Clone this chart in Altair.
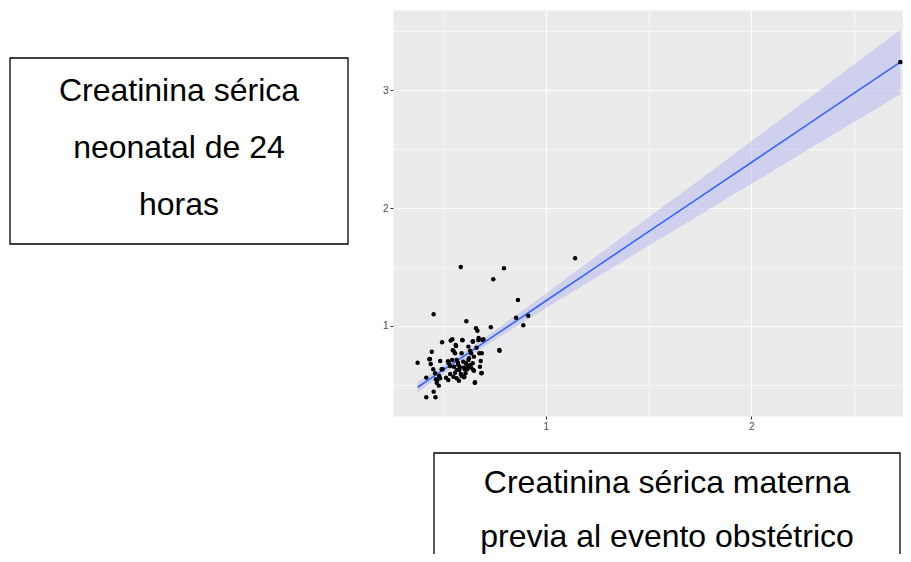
import altair as alt
import pandas as pd

# Scatter data (maternal vs neonatal serum creatinine)
x_materna = [0.377, 0.419, 0.464, 0.455, 0.419, 0.437, 0.446, 0.441, 0.487, 0.455,
             0.496, 0.453, 0.462, 0.473, 0.480, 0.486, 0.499, 0.528, 0.526, 0.538,
             0.546, 0.551, 0.545, 0.535, 0.562, 0.559, 0.567, 0.554, 0.559, 0.567,
             0.575, 0.580, 0.587, 0.591, 0.587, 0.596, 0.603, 0.604, 0.612, 0.614,
             0.619, 0.624, 0.627, 0.632, 0.637, 0.645, 0.645, 0.648, 0.656, 0.661,
             0.668, 0.651, 0.664, 0.672, 0.677, 0.684, 0.689, 0.697, 0.680, 0.733,
             0.745, 0.774, 0.797, 0.856, 0.865, 0.891, 0.915, 1.143, 2.725,
             0.564, 0.548, 0.632, 0.689, 0.434, 0.573, 0.599, 0.624, 0.494, 0.583,
             0.607, 0.637, 0.651, 0.482, 0.466, 0.535, 0.551, 0.591, 0.603, 0.687,
             0.470, 0.655, 0.776, 0.594, 0.674, 0.692, 0.646, 0.568, 0.610, 0.620,
             0.525, 0.515, 0.578]
y_neonatal = [0.689, 0.396, 0.396, 0.443, 0.562, 0.720, 0.782, 0.678, 0.703, 1.100,
              0.862, 0.633, 0.599, 0.542, 0.494, 0.557, 0.633, 0.684, 0.542, 0.876,
              0.887, 0.791, 0.712, 0.661, 0.839, 0.769, 0.712, 0.655, 0.604, 0.557,
              0.669, 0.627, 0.593, 0.769, 1.500, 0.879, 0.647, 0.570, 0.684, 1.040,
              0.633, 0.825, 0.726, 0.669, 0.769, 0.867, 0.684, 0.627, 0.523, 0.980,
              0.960, 0.740, 0.816, 0.881, 0.769, 0.703, 0.602, 0.887, 0.655, 0.989,
              1.396, 0.797, 1.490, 1.070, 1.220, 1.006, 1.087, 1.574, 3.240,
              0.830, 0.794, 0.791, 0.769, 0.718, 0.689, 0.697, 0.712, 0.633, 0.650,
              0.633, 0.647, 0.621, 0.576, 0.548, 0.593, 0.570, 0.576, 0.565, 0.599,
              0.519, 0.519, 0.790, 0.881, 0.898, 0.881, 0.870, 0.627, 0.600, 0.660,
              0.700, 0.560, 0.535]

# Fitted line and confidence band
fit_x = [0.377, 0.5, 0.6, 0.75, 1.0, 1.25, 1.5, 1.75, 2.0, 2.25, 2.5, 2.725]
fit_y = [0.480, 0.625, 0.742, 0.918, 1.212, 1.506, 1.800, 2.093, 2.387, 2.681, 2.975, 3.239]
band_low = [0.435, 0.588, 0.707, 0.878, 1.150, 1.416, 1.680, 1.943, 2.206, 2.469, 2.731, 2.967]
band_high = [0.525, 0.662, 0.777, 0.958, 1.274, 1.596, 1.920, 2.243, 2.568, 2.893, 3.219, 3.511]

x_ticks = [0.5, 1, 1.5, 2, 2.5]
y_ticks = [0.5, 1, 1.5, 2, 2.5, 3, 3.5]

y_label_lines = ["Creatinina sérica", "neonatal de 24", "horas"]
x_label_lines = ["Creatinina sérica materna", "previa al evento obstétrico"]

X_DOMAIN = [0.2573, 2.7378]
Y_DOMAIN = [0.2363, 3.681]

pts = pd.DataFrame({"x": x_materna, "y": y_neonatal})
fit = pd.DataFrame({"x": fit_x, "y": fit_y, "lo": band_low, "hi": band_high})

major = "datum.value % 1 === 0"


def axis(vals):
    return alt.Axis(
        values=vals,
        labelExpr=f"{major} ? format(datum.value, 'd') : ''",
        grid=True,
        gridColor="white",
        gridWidth={"condition": {"test": major, "value": 1.1}, "value": 0.55},
        tickOpacity={"condition": {"test": major, "value": 1}, "value": 0},
        tickColor="#333333",
        tickSize=3,
        tickWidth=1,
        domain=False,
        title=None,
        labelColor="#4D4D4D",
        labelFont="Liberation Sans",
        labelFontSize=10,
        labelPadding=2,
    )


xs = alt.Scale(domain=X_DOMAIN, zero=False, nice=False)
ys = alt.Scale(domain=Y_DOMAIN, zero=False, nice=False)

band = alt.Chart(fit).mark_area(color="#B8B8F0", opacity=0.55, clip=True).encode(
    x=alt.X("x:Q", scale=xs, axis=axis(x_ticks)),
    y=alt.Y("lo:Q", scale=ys, axis=axis(y_ticks)),
    y2="hi:Q",
)

line = alt.Chart(fit).mark_line(color="#3366FF", strokeWidth=1.6, clip=True).encode(
    x=alt.X("x:Q", scale=xs, axis=axis(x_ticks)),
    y=alt.Y("y:Q", scale=ys, axis=axis(y_ticks)),
)

points = alt.Chart(pts).mark_circle(size=20, color="black", opacity=1).encode(
    x=alt.X("x:Q", scale=xs, axis=axis(x_ticks)),
    y=alt.Y("y:Q", scale=ys, axis=axis(y_ticks)),
)

box_left = alt.Chart(pd.DataFrame({"k": [0]})).mark_rect(
    fillOpacity=0, stroke="black", strokeWidth=1.3
).encode(x=alt.value(-383), x2=alt.value(-45), y=alt.value(48), y2=alt.value(234))
box_bottom = alt.Chart(pd.DataFrame({"k": [0]})).mark_rect(
    fillOpacity=0, stroke="black", strokeWidth=1.3
).encode(x=alt.value(41), x2=alt.value(507), y=alt.value(443), y2=alt.value(620))

text_left = alt.Chart(pd.DataFrame({"t": ["\n".join(y_label_lines)]})).mark_text(
    align="center", baseline="alphabetic", font="Liberation Sans", fontSize=32,
    lineBreak="\n", lineHeight=57, color="black"
).encode(x=alt.value(-214), y=alt.value(91), text="t:N")

text_bottom = alt.Chart(pd.DataFrame({"t": ["\n".join(x_label_lines)]})).mark_text(
    align="center", baseline="alphabetic", font="Liberation Sans", fontSize=32,
    lineBreak="\n", lineHeight=54, color="black"
).encode(x=alt.value(274), y=alt.value(483), text="t:N")

chart = alt.layer(band, line, points, box_left, box_bottom, text_left, text_bottom).properties(
    width=510,
    height=406,
    padding={"left": 385, "top": 2, "right": 0, "bottom": 138},
    autosize=alt.AutoSizeParams(type="none"),
    background="white",
).configure_view(fill="#EBEBEB", stroke="transparent")

chart.save("out.html", embed_options={"renderer": "svg", "actions": False})
